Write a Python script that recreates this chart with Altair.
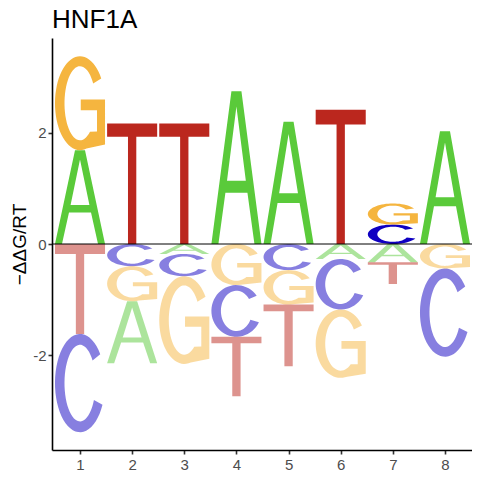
import math
import altair as alt
import pandas as pd

# ---- data (−ΔΔG/RT per position and base) ----
positions = [1, 2, 3, 4, 5, 6, 7, 8]
A_vals = [1.69, -1.12, -0.18, 2.75, 2.20, -0.27, -0.33, 2.03]
C_vals = [-1.77, -0.40, -0.40, -0.93, -0.47, -0.91, 0.35, -1.59]
G_vals = [1.69, -0.63, -1.58, -0.74, -0.62, -1.23, 0.38, -0.44]
T_vals = [-1.62, 2.17, 2.17, -1.07, -1.11, 2.42, -0.39, 0.0]
letters = ["A", "C", "G", "T"]
colors = ["#5ACA3A", "#0F00C2", "#F5B53F", "#BB271E"]
y_ticks = [-2, 0, 2]

# ---- layout ----
PLOT_W, PLOT_H = 420, 412
X_DOMAIN = [0.463, 8.518]
Y_DOMAIN = [-3.71, 3.71]
LETTER_FRAC = 0.96

px_per_x = PLOT_W / (X_DOMAIN[1] - X_DOMAIN[0])
px_per_y = PLOT_H / (Y_DOMAIN[1] - Y_DOMAIN[0])
W = LETTER_FRAC * px_per_x  # letter width in px


# ---- glyph outlines in a unit box [-1,1]x[-1,1] (y up) ----
def arc(rx, ry, a0, a1, n=48):
    out = []
    for i in range(n + 1):
        t = math.radians(a0 + (a1 - a0) * i / n)
        out.append((rx * math.cos(t), ry * math.sin(t)))
    return out


def area(pts):
    s = 0.0
    for i in range(len(pts)):
        x1, y1 = pts[i]
        x2, y2 = pts[(i + 1) % len(pts)]
        s += x1 * y2 - x2 * y1
    return s / 2


def orient(pts, positive=True):
    a = area(pts)
    if (a > 0) != positive:
        return list(reversed(pts))
    return pts


GLYPHS = {
    "A": [
        orient([(-1, -1), (-0.2, 1), (0.2, 1), (1, -1), (0.72, -1), (0.44, -0.33),
                (-0.44, -0.33), (-0.72, -1)], True),
        orient([(-0.376, -0.17), (0.376, -0.17), (0, 0.8)], False),
    ],
    "T": [
        [(-1, 1), (1, 1), (1, 0.78), (0.166, 0.78), (0.166, -1), (-0.166, -1),
         (-0.166, 0.78), (-1, 0.78)],
    ],
    "C": [
        arc(1, 1, 36, 334) + arc(0.62, 0.78, 334, 36),
    ],
    "G": [
        arc(1, 1, 32, 285)
        + [(1, -0.88), (1, 0.08), (0.03, 0.08), (0.03, -0.15), (0.68, -0.15), (0.68, -0.6)]
        + arc(0.62, 0.79, 310, 32),
    ],
}


def glyph_path(letter, k):
    parts = []
    for pts in GLYPHS[letter]:
        coords = " L".join(f"{x:.3f},{-y * k:.3f}" for x, y in pts)
        parts.append("M" + coords + " Z")
    return " ".join(parts)


rows = []
for letter, vals in zip(letters, [A_vals, C_vals, G_vals, T_vals]):
    for p, v in zip(positions, vals):
        if v == 0:
            continue
        k = abs(v) * px_per_y / W
        rows.append({"pos": p, "letter": letter, "val": v, "absval": abs(v),
                     "path": glyph_path(letter, k)})
df = pd.DataFrame(rows)

FONT = "Liberation Sans"


def x_axis():
    return alt.Axis(values=positions, title=None, grid=False, domainColor="black",
                    domainWidth=1.6, tickColor="#333333", tickWidth=1.6, tickSize=4,
                    labelFont=FONT, labelFontSize=15, labelColor="#4D4D4D", labelPadding=3,
                    format="d")


def y_axis():
    return alt.Axis(values=y_ticks, title="−ΔΔG/RT", grid=False, domainColor="black",
                    domainWidth=1.6, tickColor="#333333", tickWidth=1.6, tickSize=4,
                    labelFont=FONT, labelFontSize=15, labelColor="#4D4D4D", labelPadding=2,
                    format="d", labelExpr="replace(datum.label, '\u2212', '-')",
                    titleFont=FONT, titleFontSize=19, titleFontWeight="normal",
                    titleColor="black", titlePadding=3)


y_scale = alt.Scale(domain=Y_DOMAIN, nice=False, zero=False)

logo = (
    alt.Chart(df)
    .transform_stack(stack="val", groupby=["pos"], as_=["y0", "y1"],
                     sort=[alt.SortField(field="absval", order="ascending")])
    .transform_calculate(ymid="(datum.y0 + datum.y1) / 2")
    .mark_point(filled=True, strokeWidth=0)
    .encode(
        x=alt.X("pos:Q", scale=alt.Scale(domain=X_DOMAIN, nice=False, zero=False), axis=x_axis()),
        y=alt.Y("ymid:Q", scale=y_scale, axis=y_axis()),
        shape=alt.Shape("path:N", scale=None),
        color=alt.Color("letter:N", scale=alt.Scale(domain=letters, range=colors), legend=None),
        opacity=alt.condition("datum.val > 0", alt.value(1.0), alt.value(0.5)),
        size=alt.value(W * W),
    )
)

zero_line = (
    alt.Chart(pd.DataFrame({"y": [0]}))
    .mark_rule(color="black", strokeWidth=1)
    .encode(y=alt.Y("y:Q", scale=y_scale, axis=y_axis()))
)

chart = (
    alt.layer(logo, zero_line)
    .properties(
        width=PLOT_W,
        height=PLOT_H,
        title=alt.TitleParams("HNF1A", anchor="start", frame="group", fontSize=26,
                              font=FONT, fontWeight="normal", color="black",
                              offset=5),
        padding={"left": 44, "top": 30, "right": 0, "bottom": 22},
        autosize=alt.AutoSizeParams(type="none"),
        view=alt.ViewBackground(stroke="transparent", strokeWidth=0),
    )
    .configure_view(stroke="transparent", strokeWidth=0)
    .configure_axis(grid=False)
    .configure(background="white")
)

chart.save("out.html", embed_options={"renderer": "svg", "actions": False})
